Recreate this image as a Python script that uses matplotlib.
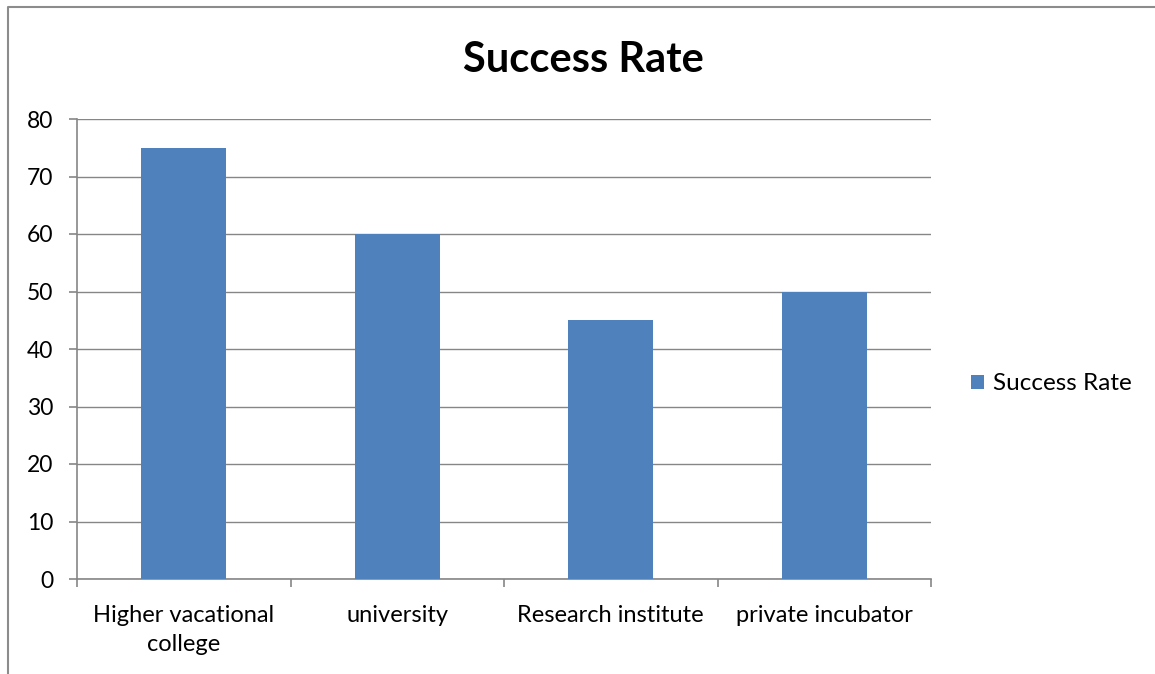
import matplotlib
matplotlib.use("Agg")
import matplotlib.pyplot as plt
from matplotlib.lines import Line2D
from matplotlib.patches import Patch

categories = ["Higher vacational\ncollege", "university", "Research institute", "private incubator"]
success_rate = [75, 60, 45, 50]
y_ticks = [0, 10, 20, 30, 40, 50, 60, 70, 80]
series_name = "Success Rate"
title = "Success Rate"

BAR_COLOR = "#4F81BD"
GRID_COLOR = "#868686"
FONT = "Lato"

plt.rcParams["font.family"] = [FONT, "DejaVu Sans"]

W, H = 1155, 674
fig = plt.figure(figsize=(W / 100, H / 100), dpi=100)
ax = fig.add_axes([77 / W, 1 - 579 / H, 854 / W, 460 / H])

x = list(range(len(categories)))
ax.bar(x, success_rate, width=0.4, color=BAR_COLOR, zorder=3, label=series_name)

ax.set_xlim(-0.5, len(categories) - 0.5)
ax.set_ylim(0, 80)
ax.set_yticks(y_ticks)
ax.yaxis.grid(True, color=GRID_COLOR, linewidth=1.0, zorder=0)

for side in ("top", "right"):
    ax.spines[side].set_visible(False)
for side in ("left", "bottom"):
    ax.spines[side].set_color(GRID_COLOR)
    ax.spines[side].set_linewidth(1.2)

ax.tick_params(axis="y", length=6, width=1.2, color=GRID_COLOR, pad=11,
               labelsize=16.5, labelcolor="black")
ax.set_xticks(x)
ax.set_xticklabels(categories, fontsize=17, linespacing=1.45)
ax.tick_params(axis="x", which="major", length=0, pad=19, labelcolor="black")
ax.set_xticks([i - 0.5 for i in range(len(categories) + 1)], minor=True)
ax.tick_params(axis="x", which="minor", length=6, width=1.2, color=GRID_COLOR)

fig.text((458 + 709) / 2 / W, 1 - 60 / H, title, ha="center", va="center",
         fontsize=30, fontweight="bold")

handles = [Patch(facecolor=BAR_COLOR, edgecolor="none", label=series_name)]
fig.legend(handles=handles, loc="center left", bbox_to_anchor=(971 / W, 1 - 384 / H),
           frameon=False, fontsize=17.5, handlelength=0.55, handleheight=0.55,
           handletextpad=0.35, borderaxespad=0, borderpad=0)

# outer chart frame
fig.add_artist(Line2D([8 / W, 8 / W, 1.0], [0.0, 1 - 7 / H, 1 - 7 / H],
                      transform=fig.transFigure, color="#8C8C8C", linewidth=1.5))

fig.savefig("out.png", dpi=100)
